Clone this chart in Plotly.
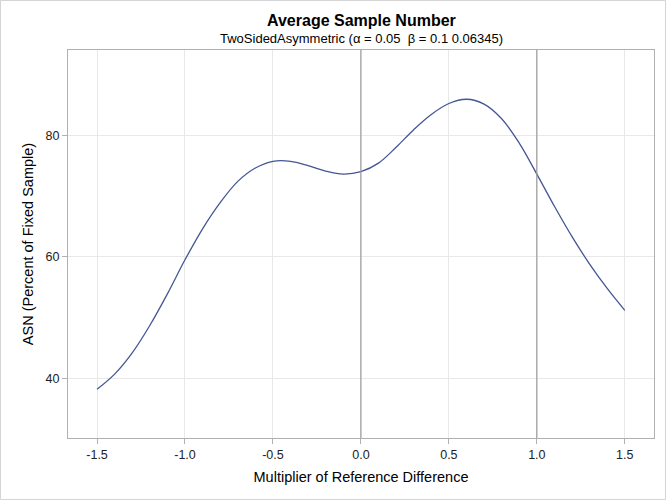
import plotly.graph_objects as go

multiplier = [-1.5, -1.4, -1.3, -1.2, -1.1, -1.0, -0.9, -0.8, -0.7, -0.6, -0.5, -0.4, -0.3, -0.2, -0.1,
              0.0, 0.1, 0.2, 0.3, 0.4, 0.5, 0.6, 0.7, 0.8, 0.9, 1.0, 1.1, 1.2, 1.3, 1.4, 1.5]
asn = [38.2, 40.7, 44.2, 48.7, 53.9, 59.5, 64.6, 68.9, 72.4, 74.6, 75.7, 75.7, 75.0, 74.1, 73.6,
       74.0, 75.4, 78.0, 80.9, 83.4, 85.2, 85.9, 85.1, 82.7, 78.7, 73.6, 68.3, 63.3, 58.8, 54.8, 51.2]
ref_lines = [0.0, 1.0]
x_ticks = [-1.5, -1.0, -0.5, 0.0, 0.5, 1.0, 1.5]
x_tick_labels = ["-1.5", "-1.0", "-0.5", "0.0", "0.5", "1.0", "1.5"]
y_ticks = [40, 60, 80]

W, H = 666, 500
ml, mr, mt, mb = 68, 12, 50, 62
pw, ph = W - ml - mr, H - mt - mb

fig = go.Figure()
fig.add_trace(go.Scatter(x=multiplier, y=asn, mode="lines",
                         line=dict(color="#445694", width=1.3, shape="spline", smoothing=1.0),
                         showlegend=False, hoverinfo="skip"))

for r in ref_lines:
    fig.add_shape(type="line", xref="x", yref="paper", x0=r, x1=r, y0=0, y1=1,
                  line=dict(color="#9a9a9a", width=1.2), layer="above")

# outer image border
fig.add_shape(type="rect", xref="paper", yref="paper",
              x0=-ml / pw + 0.5 / pw, x1=1 + (mr - 0.5) / pw,
              y0=-mb / ph + 0.5 / ph, y1=1 + (mt - 0.5) / ph,
              line=dict(color="#d4d4d4", width=1), layer="below")

fig.update_layout(
    width=W, height=H,
    margin=dict(l=ml, r=mr, t=mt, b=mb, autoexpand=False),
    paper_bgcolor="white", plot_bgcolor="white",
    font=dict(family="Liberation Sans, Arial, sans-serif", color="#000000"),
    annotations=[
        dict(text="<b>Average Sample Number</b>", xref="paper", yref="paper",
             x=0.5, y=1 + (mt - 20) / ph, xanchor="center", yanchor="middle",
             showarrow=False, font=dict(size=16)),
        dict(text="TwoSidedAsymmetric (α = 0.05  β = 0.1 0.06345)", xref="paper", yref="paper",
             x=0.5, y=1 + (mt - 38) / ph, xanchor="center", yanchor="middle",
             showarrow=False, font=dict(size=13)),
    ],
)
fig.update_xaxes(range=[-1.665, 1.666], tickvals=x_ticks, ticktext=x_tick_labels,
                 showgrid=True, gridcolor="#e8e8e8", gridwidth=1, zeroline=False,
                 showline=True, linecolor="#b0b0b0", linewidth=1, mirror=True,
                 ticks="outside", ticklen=5, tickcolor="#b0b0b0",
                 tickfont=dict(size=12.5, color="#222"), automargin=False,
                 title=dict(text="Multiplier of Reference Difference", font=dict(size=14.5), standoff=10))
fig.update_yaxes(range=[30.2, 94.0], tickvals=y_ticks,
                 showgrid=True, gridcolor="#e8e8e8", gridwidth=1, zeroline=False,
                 showline=True, linecolor="#b0b0b0", linewidth=1, mirror=True,
                 ticks="outside", ticklen=5, tickcolor="#b0b0b0",
                 tickfont=dict(size=12.5, color="#222"), automargin=False,
                 title=dict(text="ASN (Percent of Fixed Sample)", font=dict(size=14.5), standoff=8))

fig.write_html("out.html", config={"displayModeBar": False},
               post_script="document.body.style.margin='0';")
